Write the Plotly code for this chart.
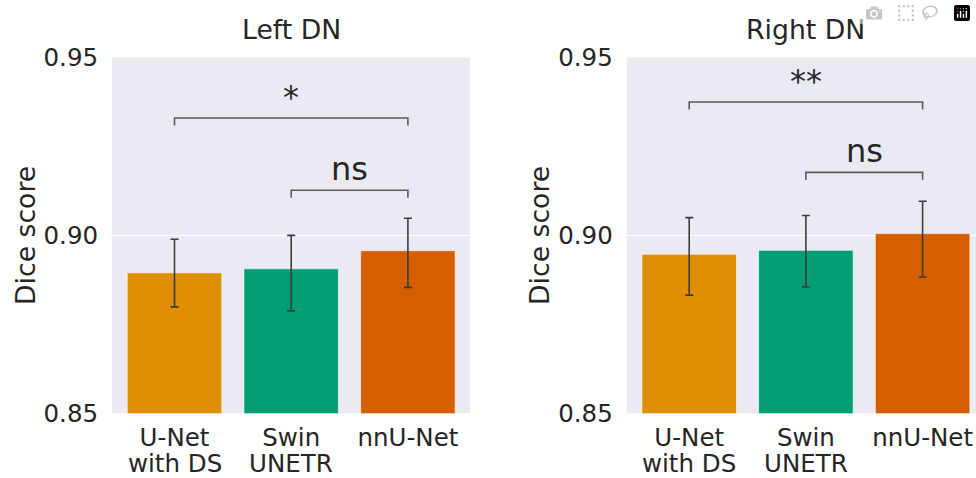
import plotly.graph_objects as go

# category labels (two text lines each)
categories_line1 = ["U-Net", "Swin", "nnU-Net"]
categories_line2 = ["with DS", "UNETR", ""]
colors = ["#DE8F05", "#029E73", "#D55E00"]

left_values = [0.8895, 0.8906, 0.8957]
left_err_hi = [0.8989, 0.9000, 0.9048]
left_err_lo = [0.8799, 0.8788, 0.8854]

right_values = [0.8947, 0.8958, 0.9005]
right_err_hi = [0.9050, 0.9056, 0.9096]
right_err_lo = [0.8832, 0.8855, 0.8883]

# significance brackets: (from category index, to category index, height, label)
left_brackets = [(0, 2, 0.9330, "*"), (1, 2, 0.9127, "ns")]
right_brackets = [(0, 2, 0.9375, "**"), (1, 2, 0.9177, "ns")]
bracket_drop = 0.0021

titles = ["Left DN", "Right DN"]
y_label = "Dice score"
y_ticks = [0.85, 0.90, 0.95]
y_ticktext = ["0.85", "0.90", "0.95"]

FONT = "DejaVu Sans"
TXT = "#262626"
OFF = 0  # page body margin is removed below, so the figure starts at the top-left corner
W, H = 976, 478
TICK = 24.5
LABEL = 26.7

def px(v):
    return (v - OFF) / W

def py(v):
    return 1 - (v - OFF) / H

fig = go.Figure()

panels = [
    ("x", "y", left_values, left_err_hi, left_err_lo, left_brackets),
    ("x2", "y2", right_values, right_err_hi, right_err_lo, right_brackets),
]
xs = list(range(len(categories_line1)))
for xa, ya, vals, hi, lo, brackets in panels:
    fig.add_trace(go.Bar(
        x=xs, y=vals, xaxis=xa, yaxis=ya, width=0.81,
        marker=dict(color=colors, line=dict(color="rgba(255,255,255,0.6)", width=1)),
        error_y=dict(type="data", symmetric=False,
                     array=[h - v for h, v in zip(hi, vals)],
                     arrayminus=[v - l for l, v in zip(lo, vals)],
                     color="#3d3d3d", thickness=1.6, width=4),
        showlegend=False, hoverinfo="skip",
    ))
    for a, b, h, label in brackets:
        fig.add_trace(go.Scatter(
            x=[a, a, b, b], y=[h - bracket_drop, h, h, h - bracket_drop],
            xaxis=xa, yaxis=ya, mode="lines",
            line=dict(color="#5a5a5a", width=1.6),
            showlegend=False, hoverinfo="skip",
        ))
        fig.add_annotation(
            x=(a + b) / 2, y=h, xref=xa, yref=ya, text=label,
            showarrow=False, yanchor="bottom", yshift=0,
            font=dict(family=FONT, size=32, color=TXT),
        )
    # second line of the category labels
    for x, t in zip(xs, categories_line2):
        if t:
            fig.add_annotation(x=x, y=py(463.5), xref=xa, yref="paper", text=t,
                               showarrow=False, xanchor="center", yanchor="middle",
                               font=dict(family=FONT, size=TICK, color=TXT))

# geometry (screen pixel positions from the reference)
CAT = 116.7          # px per category
PAD = 15 + 95 / 2    # panel edge to first bar centre
left_px = (112, 470)
right_px = (626.7, 984.7)

def dom_and_range(p):
    lo_px, hi_px = p
    hi_clip = min(hi_px, W + OFF)
    c0 = lo_px + PAD
    return [px(lo_px), px(hi_clip)], [(lo_px - c0) / CAT, (hi_clip - c0) / CAT]

left_dom, left_rng = dom_and_range(left_px)
right_dom, right_rng = dom_and_range(right_px)
y_dom = [py(413.3), py(57.5)]

def xaxis(dom, rng, anchor):
    return dict(domain=dom, range=rng, tickvals=xs, ticktext=categories_line1,
                showgrid=False, zeroline=False, showline=False, ticks="outside", ticklen=2,
                tickcolor="rgba(0,0,0,0)", tickfont=dict(family=FONT, size=TICK, color=TXT),
                anchor=anchor, automargin=False, fixedrange=True, ticklabeloverflow="allow")

def yaxis(anchor):
    return dict(domain=y_dom, range=[0.85, 0.95], tickvals=y_ticks, ticktext=y_ticktext,
                ticks="outside", ticklen=8, tickcolor="rgba(0,0,0,0)",
                showgrid=True, gridcolor="white", gridwidth=1.2, zeroline=False,
                showline=False, tickfont=dict(family=FONT, size=TICK, color=TXT),
                anchor=anchor, automargin=False, fixedrange=True, ticklabeloverflow="allow")

fig.update_layout(
    width=W, height=H,
    margin=dict(l=0, r=0, t=0, b=0, autoexpand=False),
    paper_bgcolor="white", plot_bgcolor="#EAEAF2",
    xaxis=xaxis(left_dom, left_rng, "y"),
    xaxis2=xaxis(right_dom, right_rng, "y2"),
    yaxis=yaxis("x"),
    yaxis2=yaxis("x2"),
)

# subplot titles and y-axis labels
for p, t, lx in zip([left_px, right_px], titles, [25, 539]):
    fig.add_annotation(x=px((p[0] + p[1]) / 2), y=py(29), xref="paper", yref="paper",
                       text=t, showarrow=False, yanchor="middle", xanchor="center",
                       font=dict(family=FONT, size=LABEL, color=TXT))
    fig.add_annotation(x=px(lx), y=py(236), xref="paper", yref="paper",
                       text=y_label, textangle=-90, showarrow=False,
                       xanchor="center", yanchor="middle",
                       font=dict(family=FONT, size=LABEL, color=TXT))

fig.write_html("out.html",
               post_script="document.body.style.margin='0px';document.body.style.overflow='hidden';")
